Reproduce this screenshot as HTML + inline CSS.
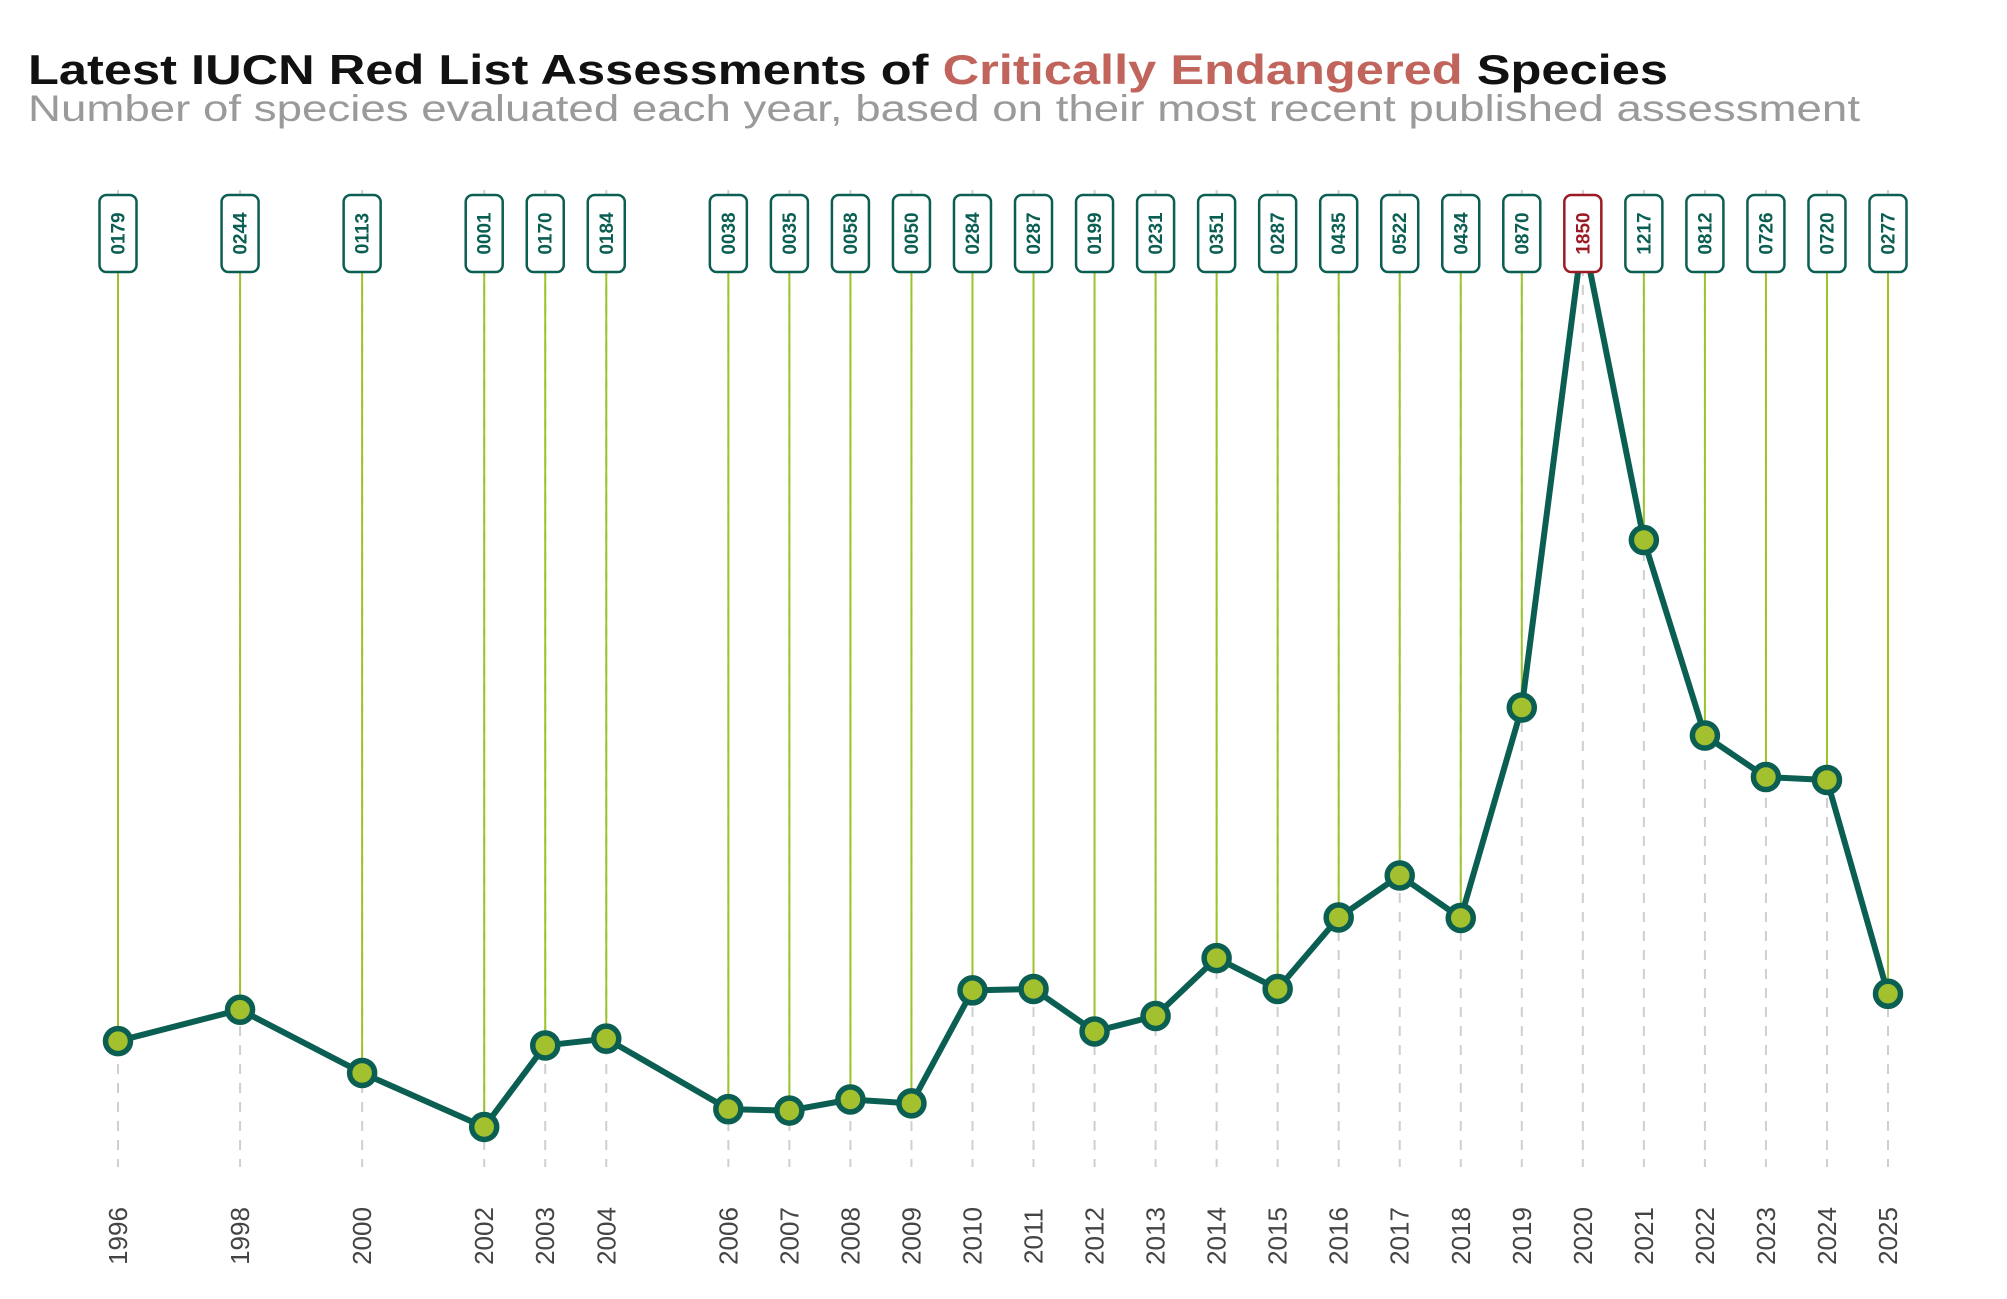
<!DOCTYPE html>
<html><head><meta charset="utf-8"><style>
html,body{margin:0;padding:0;background:#fff}
svg{display:block}
text{font-family:"Liberation Sans","DejaVu Sans",sans-serif}
</style></head><body>
<svg id="chart" width="2007" height="1299" viewBox="0 0 2007 1299" xmlns="http://www.w3.org/2000/svg">
<text x="28" y="84" font-size="42" font-weight="bold" fill="#111" textLength="1640" lengthAdjust="spacingAndGlyphs">Latest IUCN Red List  Assessments of <tspan fill="#c0645c">Critically Endangered</tspan> Species</text>
<text x="28" y="121" font-size="37" fill="#9a9a9a" textLength="1832" lengthAdjust="spacingAndGlyphs">Number  of species evaluated each year, based on their most recent published assessment</text>
<g id="grid"></g><g id="stems"></g><g id="line"></g><g id="points"></g><g id="labels"></g><g id="xaxis"></g>
</svg>
<script>
const years=[1996,1998,2000,2002,2003,2004,2006,2007,2008,2009,2010,2011,2012,2013,2014,2015,2016,2017,2018,2019,2020,2021,2022,2023,2024,2025];
const counts=[179,244,113,1,170,184,38,35,58,50,284,287,199,231,351,287,435,522,434,870,1850,1217,812,726,720,277];
const valueLabels=["0179","0244","0113","0001","0170","0184","0038","0035","0058","0050","0284","0287","0199","0231","0351","0287","0435","0522","0434","0870","1850","1217","0812","0726","0720","0277"];
const NS="http://www.w3.org/2000/svg";
const minY=Math.min(...years),maxY=Math.max(...years),maxV=Math.max(...counts);
function xs(y){return 118+(y-minY)*(1888-118)/(maxY-minY);}
function ys(v){return 1127.5-v*(1127.5-234.5)/maxV;}
function mk(tag,parent,attrs){const e=document.createElementNS(NS,tag);for(const k in attrs)e.setAttribute(k,attrs[k]);document.getElementById(parent).appendChild(e);return e;}
const maxIdx=counts.indexOf(maxV);
let pts=[];
years.forEach((yr,i)=>{
  const x=xs(yr),y=ys(counts[i]);pts.push(x+","+y);
  const g=mk('line','grid',{x1:x,y1:190,x2:x,y2:1167,stroke:'#cfcfcf','stroke-width':2,'stroke-dasharray':'10,9'});
  
  
  const s=mk('line','stems',{x1:x,y1:272,x2:x,y2:y,stroke:'#9cc32a','stroke-width':2});
  
  
  const hi=i===maxIdx,col=hi?'#9b1b24':'#0b5e52';
  const r=mk('rect','labels',{x:x-18.5,y:195,width:37,height:77,rx:7,fill:'#fff',stroke:col,'stroke-width':2.5});
  
  
  const t=mk('text','labels',{x:0,y:0,transform:`translate(${x+6.5},233.5) rotate(-90)`,'text-anchor':'middle','font-size':19,'font-weight':'bold',fill:col});
  t.textContent=valueLabels[i];
  
  
  const xl=mk('text','xaxis',{x:0,y:0,transform:`translate(${x+9},1236) rotate(-90)`,'text-anchor':'middle','font-size':26,fill:'#444'});
  xl.textContent=yr;
  
  
});
const pl=mk('polyline','line',{points:pts.join(' '),fill:'none',stroke:'#0b5e52','stroke-width':6,'stroke-linejoin':'round'});


years.forEach((yr,i)=>{
  if(i===maxIdx)return;
  const c=mk('circle','points',{cx:xs(yr),cy:ys(counts[i]),r:12.5,fill:'#a3c12e',stroke:'#0b5e52','stroke-width':5.5});
  
  
});
</script>
</body></html>
